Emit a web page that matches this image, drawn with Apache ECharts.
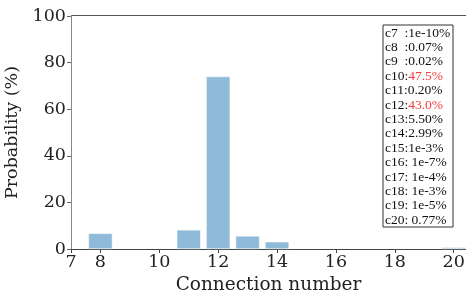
<!DOCTYPE html>
<html>
<head>
<meta charset="UTF-8">
<title>Connection number</title>
<script src="https://cdn.jsdelivr.net/npm/echarts@6/dist/echarts.min.js"></script>
<style>
  html, body { margin: 0; padding: 0; background: #fff; }
  #main { width: 466px; height: 297px; }
</style>
</head>
<body>
<div id="main"></div>
<script>
  // data
  var connNumbers = [8, 11, 12, 13, 14, 20];
  var probValues = [6.7, 8.2, 74.0, 5.6, 3.1, 0.7];
  var xTicks = [7, 8, 10, 12, 14, 16, 18, 20];
  var boxNames = ['c7', 'c8', 'c9', 'c10', 'c11', 'c12', 'c13', 'c14', 'c15', 'c16', 'c17', 'c18', 'c19', 'c20'];
  var boxValues = ['  :1e-10%', '  :0.07%', '  :0.02%', ':47.5%', ':0.20%', ':43.0%', ':5.50%', ':2.99%', ':1e-3%', ': 1e-7%', ': 1e-4%', ': 1e-3%', ': 1e-5%', ': 0.77%'];
  var redRows = ['c10', 'c12'];

  var barData = [];
  for (var i = 0; i < connNumbers.length; i++) {
    barData.push([connNumbers[i], probValues[i]]);
  }

  var lines = [];
  for (var j = 0; j < boxNames.length; j++) {
    var v = boxValues[j];
    if (redRows.indexOf(boxNames[j]) >= 0) {
      lines.push('{n|' + boxNames[j] + ':}{r|' + v.slice(1) + '}');
    } else {
      lines.push('{n|' + boxNames[j] + v + '}');
    }
  }

  var myChart = echarts.init(document.getElementById('main'));
  var option = {
    animation: false,
    grid: { left: 71, right: 0, top: 16, bottom: 48, outerBoundsMode: 'none', containLabel: false },
    xAxis: {
      type: 'value',
      min: 7,
      max: 20.42,
      name: 'Connection number',
      nameLocation: 'middle',
      nameGap: 24,
      nameTextStyle: { fontFamily: 'DejaVu Serif', fontSize: 18.5, color: '#222' },
      splitLine: { show: false },
      axisLine: { show: true, lineStyle: { color: '#444' } },
      axisTick: { show: true, length: 4, customValues: xTicks, lineStyle: { color: '#444' } },
      axisLabel: {
        customValues: xTicks,
        fontFamily: 'DejaVu Serif', fontSize: 17.5, color: '#222', margin: 4
      }
    },
    yAxis: {
      type: 'value',
      min: 0,
      max: 100,
      interval: 20,
      name: 'Probability (%)',
      nameLocation: 'middle',
      nameGap: 47,
      nameTextStyle: { fontFamily: 'DejaVu Serif', fontSize: 17.5, color: '#222' },
      splitLine: { show: false },
      axisLine: { show: true, lineStyle: { color: '#888' } },
      axisTick: { show: true, length: 4, lineStyle: { color: '#666' } },
      axisLabel: { fontFamily: 'DejaVu Serif', fontSize: 17.5, color: '#222', margin: 5 }
    },
    series: [{
      type: 'bar',
      data: barData,
      barWidth: 24,
      itemStyle: { color: '#8fbbd9', borderColor: '#fff', borderWidth: 0.5 }
    }],
    graphic: [
      { type: 'line', shape: { x1: 71, y1: 15.5, x2: 466, y2: 15.5 }, style: { stroke: '#555', lineWidth: 1 } },
      { type: 'rect', shape: { x: 383, y: 25, width: 70, height: 202 }, style: { fill: '#fff', stroke: '#333', lineWidth: 1 } },
      {
        type: 'text', left: 385, top: 26,
        style: {
          text: lines.join('\n'),
          rich: {
            n: { fontFamily: 'Liberation Serif', fontSize: 13.5, lineHeight: 14.4, fill: '#111' },
            r: { fontFamily: 'Liberation Serif', fontSize: 13.5, lineHeight: 14.4, fill: '#f03c3c' }
          }
        }
      }
    ]
  };
  myChart.setOption(option);
</script>
</body>
</html>
